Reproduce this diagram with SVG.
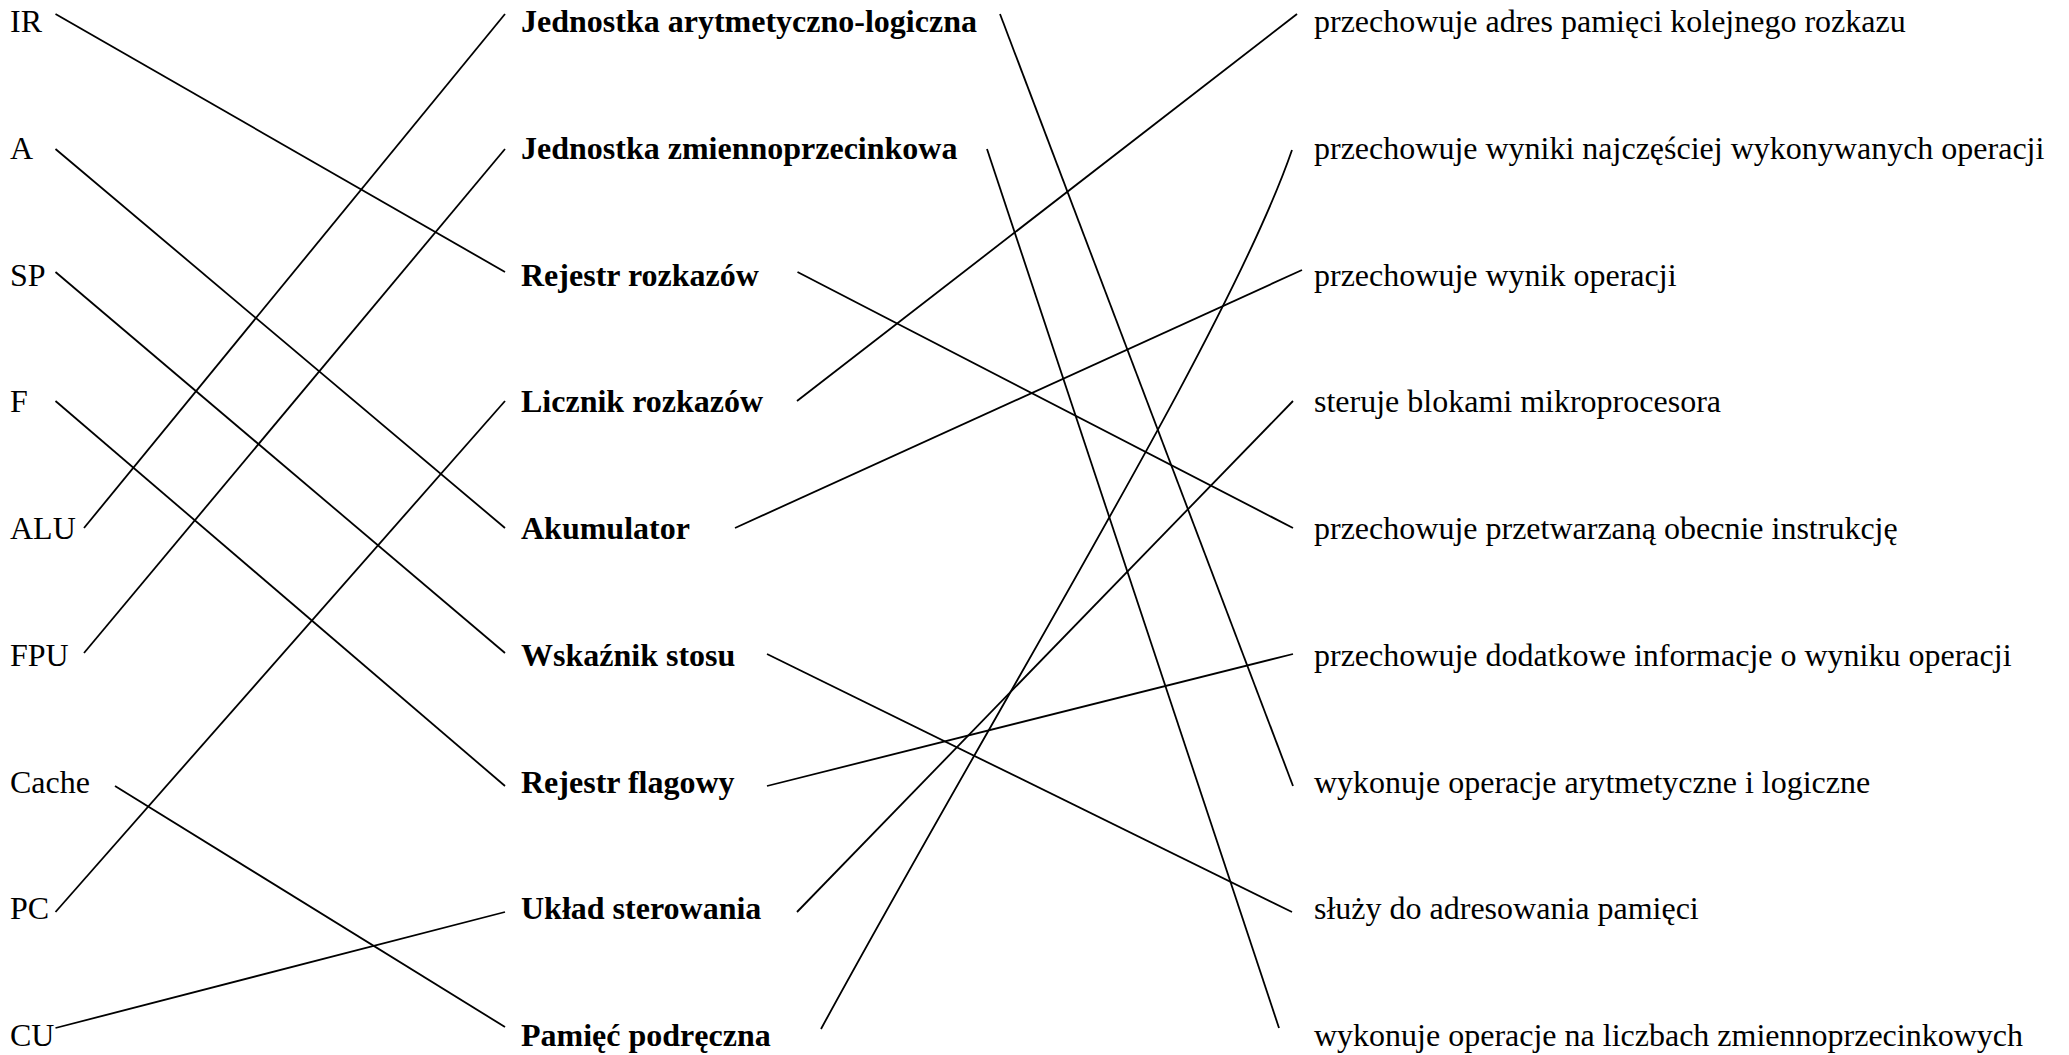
<svg xmlns="http://www.w3.org/2000/svg" width="2069" height="1055" viewBox="0 0 2069 1055">
<style>
text{font-family:"Liberation Serif","Times New Roman",serif;font-size:32px;fill:#000}
.b{font-weight:bold}
.c{stroke:#000;stroke-width:1.8;fill:none;stroke-linecap:butt}
</style>
<rect width="2069" height="1055" fill="#fff"/>
<g id="left">
<g id="n-IR"><text x="10" y="32">IR</text></g>
<g id="n-A"><text x="10" y="158.75">A</text></g>
<g id="n-SP"><text x="10" y="285.5">SP</text></g>
<g id="n-F"><text x="10" y="412.25">F</text></g>
<g id="n-ALU"><text x="10" y="539">ALU</text></g>
<g id="n-FPU"><text x="10" y="665.75">FPU</text></g>
<g id="n-Cache"><text x="10" y="792.5">Cache</text></g>
<g id="n-PC"><text x="10" y="919.25">PC</text></g>
<g id="n-CU"><text x="10" y="1046">CU</text></g>
</g>
<g id="middle">
<g id="n-alu-name"><text class="b" x="521" y="32">Jednostka arytmetyczno-logiczna</text></g>
<g id="n-fpu-name"><text class="b" x="521" y="158.75">Jednostka zmiennoprzecinkowa</text></g>
<g id="n-ir-name"><text class="b" x="521" y="285.5">Rejestr rozkazów</text></g>
<g id="n-pc-name"><text class="b" x="521" y="412.25">Licznik rozkazów</text></g>
<g id="n-a-name"><text class="b" x="521" y="539">Akumulator</text></g>
<g id="n-sp-name"><text class="b" x="521" y="665.75">Wskaźnik stosu</text></g>
<g id="n-f-name"><text class="b" x="521" y="792.5">Rejestr flagowy</text></g>
<g id="n-cu-name"><text class="b" x="521" y="919.25">Układ sterowania</text></g>
<g id="n-cache-name"><text class="b" x="521" y="1046">Pamięć podręczna</text></g>
</g>
<g id="right">
<g id="d-pc"><text x="1314" y="32">przechowuje adres pamięci kolejnego rozkazu</text></g>
<g id="d-cache"><text x="1314" y="158.75">przechowuje wyniki najczęściej wykonywanych operacji</text></g>
<g id="d-a"><text x="1314" y="285.5">przechowuje wynik operacji</text></g>
<g id="d-cu"><text x="1314" y="412.25">steruje blokami mikroprocesora</text></g>
<g id="d-ir"><text x="1314" y="539">przechowuje przetwarzaną obecnie instrukcję</text></g>
<g id="d-f"><text x="1314" y="665.75">przechowuje dodatkowe informacje o wyniku operacji</text></g>
<g id="d-alu"><text x="1314" y="792.5">wykonuje operacje arytmetyczne i logiczne</text></g>
<g id="d-sp"><text x="1314" y="919.25">służy do adresowania pamięci</text></g>
<g id="d-fpu"><text x="1314" y="1046">wykonuje operacje na liczbach zmiennoprzecinkowych</text></g>
</g>
<g id="connectors" class="c">
<line x1="55.5" y1="14" x2="505" y2="272"/>
<line x1="55.5" y1="149" x2="505" y2="528"/>
<line x1="55.5" y1="272" x2="505" y2="653"/>
<line x1="55.5" y1="401" x2="505" y2="786"/>
<line x1="84" y1="528" x2="505" y2="14"/>
<line x1="84" y1="653" x2="505" y2="149"/>
<line x1="115" y1="786" x2="505" y2="1027"/>
<line x1="55.5" y1="912" x2="505" y2="401"/>
<line x1="55.5" y1="1028" x2="505" y2="912"/>
<line x1="1000" y1="14" x2="1293" y2="786"/>
<line x1="987" y1="149" x2="1279" y2="1028"/>
<line x1="797.5" y1="272" x2="1293" y2="528"/>
<line x1="797" y1="401" x2="1297" y2="14"/>
<line x1="735" y1="528" x2="1302" y2="270"/>
<line x1="767" y1="654" x2="1292" y2="912"/>
<line x1="767" y1="786" x2="1293" y2="654"/>
<line x1="797" y1="912" x2="1293" y2="401"/>
<path d="M821,1029 C1000,700 1230,330 1292,150"/>
</g>
</svg>
